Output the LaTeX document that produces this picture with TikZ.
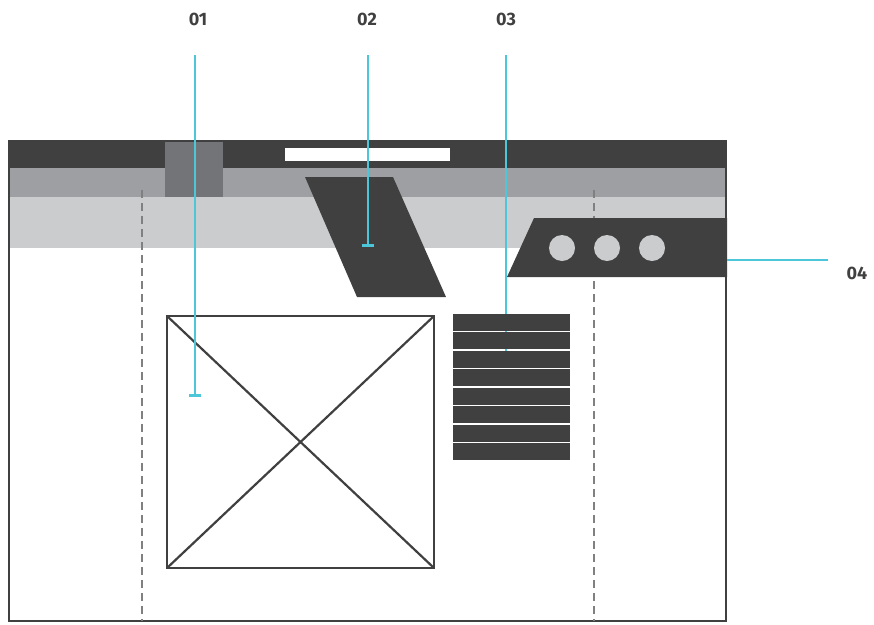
\documentclass[tikz,border=0pt]{standalone}
\usepackage{fontspec}
\setmainfont{Fira Sans}
\usetikzlibrary{arrows.meta}
\definecolor{wireDark}{HTML}{404040}
\definecolor{wireTab}{HTML}{737477}
\definecolor{wireMid}{HTML}{9E9FA2}
\definecolor{wireLight}{HTML}{CBCCCD}
\definecolor{wireGuide}{HTML}{808080}
\definecolor{calloutCyan}{HTML}{4CC7DA}

\begin{document}
\begin{tikzpicture}[x=1pt,y=-1pt,
  callout/.style={draw=calloutCyan,line width=2.8pt},
  calloutend/.style={callout,-{Bar[width=12pt,line width=2.6pt]}},
  guide/.style={draw=wireGuide,line width=2.2pt,dash pattern=on 8pt off 5pt},
  numlabel/.style={font=\bfseries\fontsize{18}{21}\selectfont,text=wireDark,inner sep=0pt}]
  \useasboundingbox (0,0) rectangle (874,624);
  \fill[wireDark] (8,140) rectangle (727,168);
  \fill[wireMid] (10,168) rectangle (725,197);
  \fill[wireLight] (10,197) rectangle (725,248);
  \fill[wireTab] (165,140) rectangle (223,197);
  \fill[white] (285,148) rectangle (450,161);
  \draw[wireDark,line width=2.8pt] (9,141) rectangle (726,621);
  \draw[guide] (142,190) -- (142,621);
  \draw[guide] (594,190) -- (594,621);
  \fill[wireDark] (305,177) -- (393,177) -- (446,297) -- (357,297) -- cycle;
  \fill[wireDark] (534,218) -- (727,218) -- (727,277) -- (507,277) -- cycle;
  \foreach \cx in {562,607,652}
    \fill[wireLight] (\cx,248) circle (13);
  \draw[wireDark,line width=2.8pt] (167,316) rectangle (434,568);
  \draw[wireDark,line width=2.2pt] (167,316) -- (434,568);
  \draw[wireDark,line width=2.2pt] (434,316) -- (167,568);
  \node[numlabel] (lab01) at (198,19) {01};
  \node[numlabel] (lab02) at (367,19) {02};
  \node[numlabel] (lab03) at (506,19) {03};
  \node[numlabel] (lab04) at (857,273) {04};
  \coordinate (top01) at (195,55);
  \coordinate (end01) at (195,397);
  \coordinate (top02) at (368,55);
  \coordinate (end02) at (368,247);
  \coordinate (top03) at (506,55);
  \coordinate (end03) at (506,368);
  \coordinate (top04) at (828,260);
  \coordinate (end04) at (727,260);
  \draw[calloutend] (top03) -- (end03);
  \foreach \i in {0,...,7}
    \fill[wireDark] (453,314+18.44*\i) rectangle (570,330.9+18.44*\i);
  \draw[calloutend] (top01) -- (end01);
  \draw[calloutend] (top02) -- (end02);
  \draw[callout] (top04) -- (end04);
\end{tikzpicture}
\end{document}
